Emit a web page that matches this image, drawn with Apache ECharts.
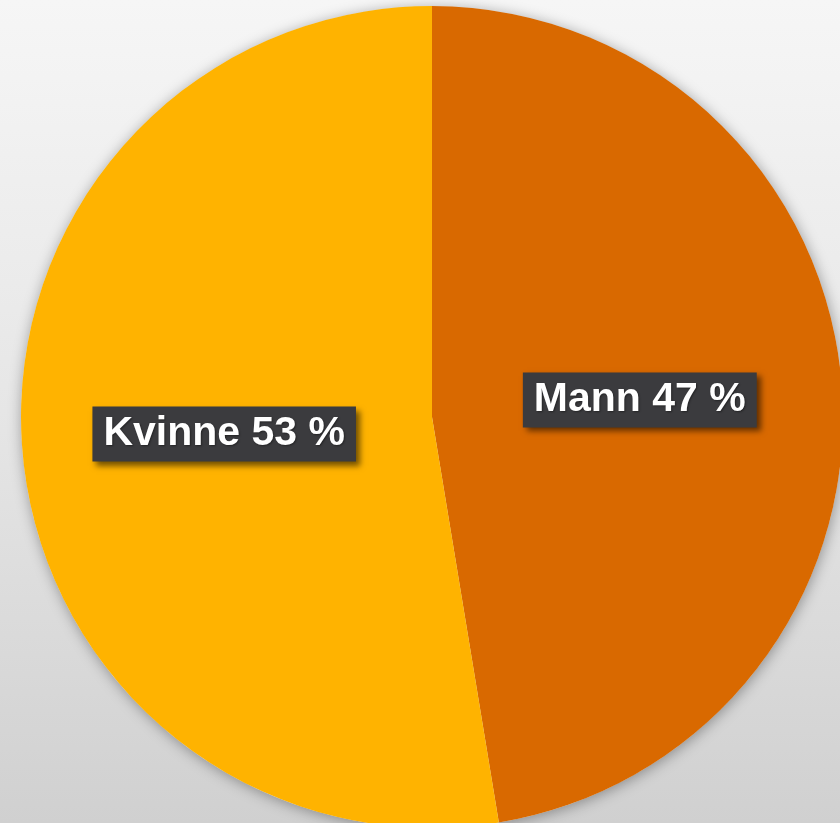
<!DOCTYPE html>
<html>
<head>
<meta charset="utf-8">
<script src="https://cdn.jsdelivr.net/npm/echarts@6/dist/echarts.min.js"></script>
<style>
  html, body { margin: 0; padding: 0; }
  #chart { width: 840px; height: 823px; }
</style>
</head>
<body>
<div id="chart"></div>
<script>
// andel kvinner / menn
var categories = ['Mann', 'Kvinne']
var values = [47.4, 52.6]
var colors = ['#D96900', '#FFB300']

var chart = echarts.init(document.getElementById('chart'))

var pieData = categories.map(function (name, i) {
    return { name: name, value: values[i], itemStyle: { color: colors[i] } }
})
var total = values.reduce(function (a, b) { return a + b }, 0)

var option = {
    backgroundColor: new echarts.graphic.LinearGradient(0, 0, 0, 1, [
        { offset: 0, color: '#f6f6f6' },
        { offset: 0.5, color: '#e6e6e6' },
        { offset: 1, color: '#d0d0d0' }
    ]),
    animation: false,
    series: [
        {
            // skygge bak kaken
            type: 'pie',
            silent: true,
            center: [432, 417],
            radius: 411,
            z: 1,
            label: { show: false },
            labelLine: { show: false },
            itemStyle: {
                color: '#e8e8e8',
                shadowBlur: 14,
                shadowColor: 'rgba(0,0,0,0.35)',
                shadowOffsetX: 1,
                shadowOffsetY: 2
            },
            data: [total]
        },
        {
            type: 'pie',
            center: [432, 417],
            radius: 411,
            startAngle: 90,
            clockwise: true,
            z: 2,
            itemStyle: { borderWidth: 0 },
            label: {
                show: true,
                position: 'inside',
                formatter: function (p) {
                    return p.name + ' ' + Math.round(p.percent) + ' %'
                },
                color: '#ffffff',
                fontFamily: 'Liberation Sans, Arial, sans-serif',
                fontWeight: 'bold',
                fontSize: 41,
                lineHeight: 45,
                backgroundColor: '#3b3b3e',
                padding: [5, 11, 5, 11],
                shadowColor: 'rgba(0,0,0,0.55)',
                shadowBlur: 6,
                shadowOffsetX: 4,
                shadowOffsetY: 4,
                textShadowColor: 'rgba(0,0,0,0.4)',
                textShadowBlur: 2,
                textShadowOffsetX: 1,
                textShadowOffsetY: 1
            },
            labelLine: { show: false },
            emphasis: { disabled: true },
            data: pieData
        }
    ]
}
chart.setOption(option)
</script>
</body>
</html>
